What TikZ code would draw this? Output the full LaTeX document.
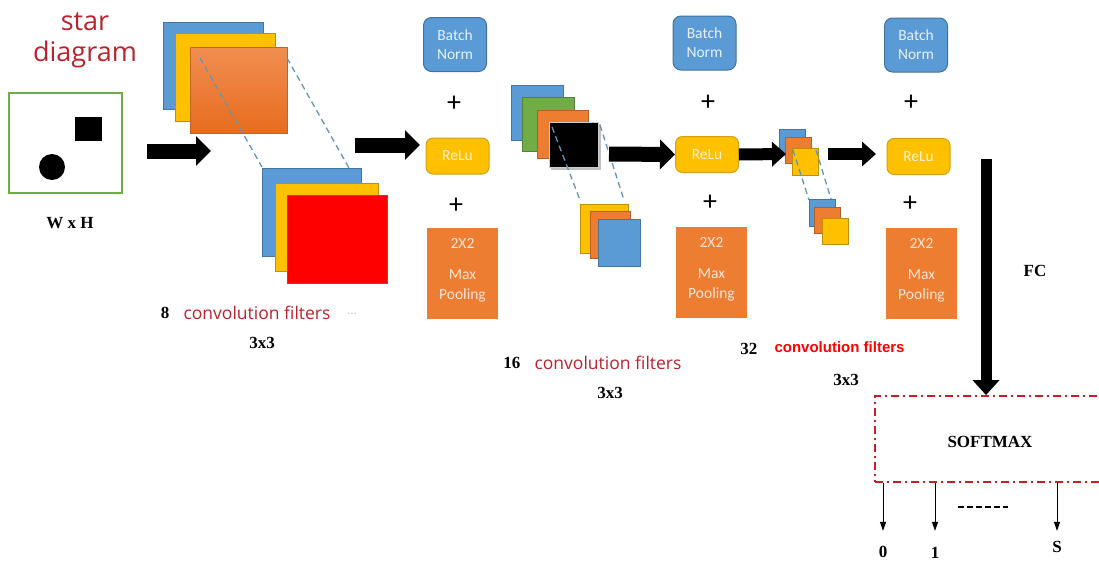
\documentclass[tikz,border=0pt]{standalone}
\usepackage{fontspec}
\setmainfont{Liberation Serif}
\newfontfamily\boxfont{Carlito}
\newfontfamily\labelfont{Open Sans}
\newfontfamily\arialfont{Liberation Sans}
\usetikzlibrary{arrows.meta}
\usetikzlibrary{positioning}

\definecolor{nblue}{RGB}{91,155,213}
\definecolor{nblueline}{RGB}{65,113,156}
\definecolor{nyellow}{RGB}{255,192,0}
\definecolor{nyellowline}{RGB}{214,160,20}
\definecolor{norange}{RGB}{237,125,49}
\definecolor{norangetop}{RGB}{242,142,82}
\definecolor{norangebot}{RGB}{230,108,30}
\definecolor{ngreen}{RGB}{112,173,71}
\definecolor{ndarkred}{RGB}{185,35,45}
\definecolor{nred}{RGB}{255,0,0}
\definecolor{nsoftmax}{RGB}{200,30,40}
\definecolor{ndash}{RGB}{95,150,185}

\tikzset{
  normbox/.style={draw=nblueline, fill=nblue, rounded corners=8pt, line width=1pt,
    minimum width=63pt, minimum height=54pt, align=center, text=white!85!nblue,
    font=\boxfont\fontsize{15.5}{19}\selectfont},
  relubox/.style={draw=nyellowline, fill=nyellow, rounded corners=7pt, line width=1pt,
    minimum width=63pt, minimum height=36pt, text=white!80!nyellow,
    font=\boxfont\fontsize{15.5}{17}\selectfont},
  poolbox/.style={fill=norange, minimum width=71pt, minimum height=91pt, align=center,
    text=white!80!norange, font=\boxfont\fontsize{15.5}{20}\selectfont},
  plussign/.style={font=\boxfont\fontsize{28}{28}\selectfont},
  sheet/.style={draw=#1!75!black, fill=#1, line width=0.8pt},
  cutline/.style={draw=ndash, line width=1.3pt, dash pattern=on 6pt off 4pt},
  blockarrow/.style={line width=15pt, -{Triangle[length=15pt,width=29pt]}},
  smallarrow/.style={line width=12pt, -{Triangle[length=14pt,width=24pt]}},
  boldlabel/.style={font=\bfseries\fontsize{17}{20}\selectfont},
  filtertext/.style={text=ndarkred, font=\labelfont\fontsize{17.5}{20}\selectfont},
  outarrow/.style={line width=1pt, -{Triangle[length=9pt,width=6pt]}}
}

\begin{document}
\begin{tikzpicture}[x=1pt, y=-1pt]
  \useasboundingbox (0,0) rectangle (1099,562);

  % Title and input image
  \node[text=ndarkred, align=center, font=\labelfont\fontsize{27}{31}\selectfont] (title) at (85,40) {star\\diagram};
  \draw[ngreen, line width=1.2pt] (9,93) rectangle (122,193);
  \fill[black] (75,117) rectangle (102,141);
  \fill[black] (52,167) circle (13);
  \node[boldlabel] (wh) at (70,223) {W x H};

  % First convolution stack
  \filldraw[sheet=nblue] (163,22) rectangle (263,109);
  \filldraw[sheet=nyellow] (175,33) rectangle (275,121);
  \shade[top color=norangetop, bottom color=norangebot, draw=norange!80!black, line width=0.8pt] (190,47) rectangle (287,133);
  \draw[cutline] (200,58) -- (262,167);
  \draw[cutline] (287,58) -- (349,168);
  \filldraw[sheet=nblue] (262,168) rectangle (361,256);
  \filldraw[sheet=nyellow] (275,183) rectangle (378,271);
  \filldraw[fill=nred, draw=violet!40!gray, line width=1pt] (287,195) rectangle (387,283);

  \coordinate (a1s) at (147,151);
  \coordinate (a1e) at (211,151);
  \draw[blockarrow] (a1s) -- (a1e);

  \node[boldlabel, anchor=east] (n8) at (173,313) {8};
  \node[filtertext, anchor=west] (f8) at (180,313) {convolution filters};
  \node[text=gray!40, font=\labelfont\fontsize{13}{14}\selectfont] (dots8) at (352,314) {...};
  \node[boldlabel] (k8) at (262,343) {3x3};

  \coordinate (a2s) at (355,145);
  \coordinate (a2e) at (420,145);
  \draw[blockarrow] (a2s) -- (a2e);

  % Block 1
  \node[normbox] (bn1) at (455,44.5) {Batch\\Norm};
  \node[plussign] (p1a) at (454,104) {+};
  \node[relubox] (relu1) at (457.5,156) {ReLu};
  \node[plussign] (p1b) at (456,206) {+};
  \node[poolbox] (pool1) at (462.5,273.5) {2X2\\[11pt]Max\\Pooling\\[-11pt]};

  % Second convolution stack
  \filldraw[sheet=nblue] (511,85) rectangle (563,140);
  \filldraw[sheet=ngreen] (522,97) rectangle (574,151);
  \filldraw[sheet=norange] (537,110) rectangle (588,158);
  \fill[black!25] (551,124) rectangle (601,170);
  \filldraw[fill=black, draw=white!80!black, line width=0.8pt] (549,122) rectangle (598,167);
  \draw[cutline] (552,127) -- (580,200);
  \draw[cutline] (600,125) -- (624,200);
  \filldraw[sheet=nyellow] (580,204) rectangle (628,253);
  \filldraw[sheet=norange] (590,211) rectangle (630,258);
  \filldraw[sheet=nblue] (598,219) rectangle (640,266);

  \node[boldlabel, anchor=east] (n16) at (524,363) {16};
  \node[filtertext, anchor=west] (f16) at (531,363) {convolution filters};
  \node[boldlabel] (k16) at (610,393) {3x3};

  % Block 2
  \node[normbox] (bn2) at (704.5,43) {Batch\\Norm};
  \node[plussign] (p2a) at (708,103) {+};
  \node[relubox] (relu2) at (707,154.5) {ReLu};
  \node[plussign] (p2b) at (710,203) {+};
  \node[poolbox] (pool2) at (711.5,272) {2X2\\[11pt]Max\\Pooling\\[-11pt]};

  \coordinate (a3s) at (609,154);
  \draw[blockarrow] (a3s) -- (relu2.west);

  % Third convolution stack
  \filldraw[sheet=nblue] (779,129) rectangle (805,155);
  \filldraw[sheet=norange] (785,137) rectangle (811,163);
  \filldraw[sheet=nyellow] (792,148) rectangle (818,175);
  \draw[cutline] (793,150) -- (809,200);
  \draw[cutline] (816,150) -- (831,199);
  \filldraw[sheet=nblue] (809,199) rectangle (835,226);
  \filldraw[sheet=norange] (814,207) rectangle (840,233);
  \filldraw[sheet=nyellow] (822,218) rectangle (848,244);

  \coordinate (a4e) at (786,154);
  \draw[smallarrow] (relu2.east) -- (a4e);
  \coordinate (a5s) at (828,154);
  \coordinate (a5e) at (876,154);
  \draw[smallarrow] (a5s) -- (a5e);

  \node[boldlabel, anchor=east] (n32) at (761,349) {32};
  \node[text=nred, anchor=west, font=\arialfont\bfseries\fontsize{15}{18}\selectfont] (f32) at (771,347) {convolution filters};
  \node[boldlabel] (k32) at (846,380) {3x3};

  % Block 3
  \node[normbox] (bn3) at (916,45) {Batch\\Norm};
  \node[plussign] (p3a) at (911,103) {+};
  \node[relubox] (relu3) at (918.5,156.5) {ReLu};
  \node[plussign] (p3b) at (910,204) {+};
  \node[poolbox] (pool3) at (921.5,273.5) {2X2\\[11pt]Max\\Pooling\\[-11pt]};

  % Fully connected and softmax
  \node[draw=nsoftmax, line width=1.8pt, dash pattern=on 8pt off 4pt on 2pt off 4pt,
        minimum width=230pt, minimum height=86pt, font=\bfseries\fontsize{17}{20}\selectfont,
        text depth=0pt] (smax) at (990,439) {\raisebox{-6pt}{SOFTMAX}};
  \coordinate (fcs) at (986,159);
  \draw[line width=11pt, -{Triangle[length=15pt,width=26pt]}] (fcs) -- (fcs |- smax.north);
  \node[boldlabel] (fc) at (1035,271) {FC};

  \node[boldlabel] (o0) at (883,552) {0};
  \node[boldlabel] (o1) at (935,553) {1};
  \node[boldlabel] (oS) at (1057,547) {S};
  \draw[outarrow] (smax.south -| o0) -- ++(0,48);
  \draw[outarrow] (smax.south -| o1) -- ++(0,48);
  \draw[outarrow] (smax.south -| oS) -- ++(0,48);
  \draw[line width=2pt, dash pattern=on 6pt off 3pt] (958,507) -- (1008,507);
\end{tikzpicture}
\end{document}
